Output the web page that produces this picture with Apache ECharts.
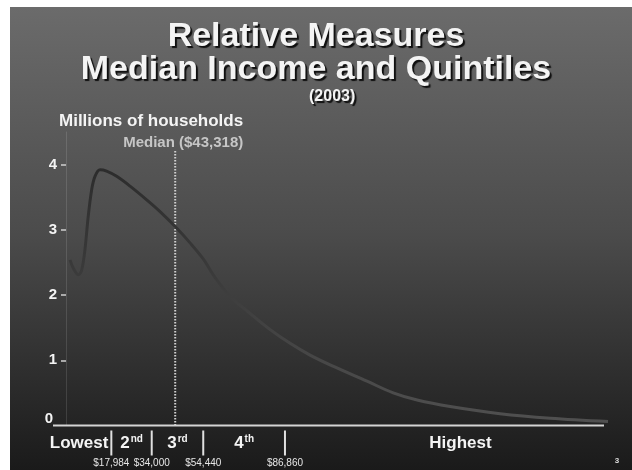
<!DOCTYPE html>
<html><head><meta charset="utf-8">
<script src="https://cdn.jsdelivr.net/npm/echarts@6/dist/echarts.min.js"></script>
<style>html,body{margin:0;padding:0;background:#fff}#c{width:632px;height:470px}</style>
</head><body><div id="c"></div>
<script>
// Income ($) and millions of households
const incomes = [1600, 2900, 4900, 6200, 7500, 8800, 10200, 11500, 13500, 16100, 20100, 25400, 32000, 37300, 43300, 49200, 54500, 58400, 65100, 73000, 81000, 88900, 96800, 105900, 119400, 129800, 139300, 152400, 172200, 192100, 215000];
const households = [2.54, 2.41, 2.31, 2.38, 2.69, 3.20, 3.62, 3.82, 3.92, 3.90, 3.82, 3.67, 3.46, 3.28, 3.05, 2.80, 2.55, 2.31, 1.98, 1.72, 1.47, 1.26, 1.08, 0.91, 0.68, 0.50, 0.39, 0.29, 0.18, 0.11, 0.06];
const medianIncome = 43318;
const medianLabel = 'Median ($43,318)';
const medianTop = 4.23;
const quintileLimits = [17984, 34000, 54440, 86860];
const limitLabels = ['$17,984', '$34,000', '$54,440', '$86,860'];
const quintileNames = ['Lowest', '2{s|nd}', '3{s|rd}', '4{s|th}', 'Highest'];
const yTicks = [0, 1, 2, 3, 4];
const xMax = 215000;
const yMax = 4.5;

const chart = echarts.init(document.getElementById('c'));
const FONT = 'Liberation Sans, Arial, sans-serif';
const shadow = {textShadowColor: 'rgba(0,0,0,0.85)', textShadowOffsetX: 2, textShadowOffsetY: 2, textShadowBlur: 1};

const option = {
  animation: false,
  backgroundColor: {
    type: 'linear', x: 0, y: 0, x2: 0, y2: 1,
    colorStops: [{offset: 0, color: '#6c6c6c'}, {offset: 0.5, color: '#4b4b4b'}, {offset: 1, color: '#1a1a1a'}]
  },
  title: [
    {text: 'Relative Measures\nMedian Income and Quintiles', left: 'center', top: 15,
     textStyle: Object.assign({color: '#f4f4f4', fontSize: 34, fontWeight: 'bold', fontFamily: FONT, lineHeight: 33}, shadow)},
    {text: '(2003)', left: 304, top: 84,
     textStyle: Object.assign({color: '#f4f4f4', fontSize: 16, fontWeight: 'bold', fontFamily: FONT}, shadow)},
    {text: 'Millions of households', left: 54, top: 108,
     textStyle: Object.assign({color: '#f4f4f4', fontSize: 17, fontWeight: 'bold', fontFamily: FONT}, {textShadowColor: 'rgba(0,0,0,0.6)', textShadowOffsetX: 1, textShadowOffsetY: 1})}
  ],
  grid: {left: 66, right: 24, top: 132, bottom: 44.5},
  xAxis: {type: 'value', min: 0, max: xMax, show: false, splitLine: {show: false}},
  yAxis: {
    type: 'value', min: 0, max: yMax,
    axisLine: {show: true, lineStyle: {color: 'rgba(255,255,255,0.12)', width: 1}},
    axisTick: {show: true, customValues: yTicks.slice(1), length: 5, lineStyle: {color: '#cfcfcf', width: 1.5}},
    splitLine: {show: false},
    axisLabel: {
      customValues: yTicks, margin: 9, color: '#f4f4f4', fontSize: 15, fontWeight: 'bold', fontFamily: FONT,
      formatter: v => v === 0 ? '{z|0}' : String(v),
      rich: {z: {fontSize: 15, fontWeight: 'bold', color: '#f4f4f4', fontFamily: FONT, padding: [0, 4, 14, 0]}}
    }
  },
  series: [
    {
      type: 'line', smooth: 0.35, symbol: 'none', z: 3,
      data: incomes.map((x, i) => [x, households[i]]),
      lineStyle: {width: 3, color: {type: 'linear', x: 0, y: 0, x2: 0, y2: 1,
        colorStops: [{offset: 0, color: '#2c2c2c'}, {offset: 1, color: '#505050'}]}}
    },
    {
      type: 'line', symbol: 'none', z: 2,
      data: [[medianIncome, 0], [medianIncome, medianTop]],
      lineStyle: {width: 2, type: [1.5, 1.5], color: '#d0d0d0'},
      label: {show: false}
    }
  ],
  graphic: []
};
chart.setOption(option);

function px(v) { return chart.convertToPixel({gridIndex: 0}, v); }
const p0 = px([0, 0]);
const pEnd = px([xMax, 0]);
const pMed = px([medianIncome, medianTop]);
const y0 = p0[1];
const g = [];
g.push({type: 'rect', shape: {x: 0, y: 0, width: 10, height: 470}, style: {fill: '#fff'}, z: 100});
g.push({type: 'rect', shape: {x: 0, y: 0, width: 632, height: 7}, style: {fill: '#fff'}, z: 100});
g.push({type: 'line', shape: {x1: p0[0] - 13, y1: y0, x2: pEnd[0] - 4, y2: y0}, style: {stroke: '#d4d4d4', lineWidth: 2}, z: 10});
g.push({type: 'text', x: pMed[0] + 8, y: pMed[1] - 7, style: {text: medianLabel, fill: '#c6c6c6', font: 'bold 15px ' + FONT, align: 'center', verticalAlign: 'middle'}, z: 10});
const xs = [p0[0]].concat(quintileLimits.map(v => px([v, 0])[0])).concat([pEnd[0] + 28]);
quintileLimits.forEach((v, i) => {
  const x = px([v, 0])[0];
  g.push({type: 'line', shape: {x1: x, y1: y0 + 5, x2: x, y2: y0 + 30}, style: {stroke: '#e0e0e0', lineWidth: 2}, z: 10});
  g.push({type: 'text', x: x, y: y0 + 38, style: {text: limitLabels[i], fill: '#e6e6e6', font: '10px ' + FONT, align: 'center', verticalAlign: 'middle'}, z: 10});
});
quintileNames.forEach((t, i) => {
  let x = (xs[i] + xs[i + 1]) / 2, align = 'center';
  if (i === 0) { x = xs[1] - 3; align = 'right'; }
  g.push({type: 'text', x: x, y: y0 + 18, z: 10, style: {
    text: t, fill: '#f4f4f4', font: 'bold 17px ' + FONT, align: align, verticalAlign: 'middle',
    rich: {s: {font: 'bold 10px ' + FONT, fill: '#f4f4f4', verticalAlign: 'top', padding: [0, 0, 8, 1]}}
  }});
});
g.push({type: 'text', x: 617, y: 461, style: {text: '3', fill: '#dddddd', font: 'bold 8px ' + FONT, align: 'center', verticalAlign: 'middle'}, z: 10});
chart.setOption({graphic: g});
</script></body></html>
